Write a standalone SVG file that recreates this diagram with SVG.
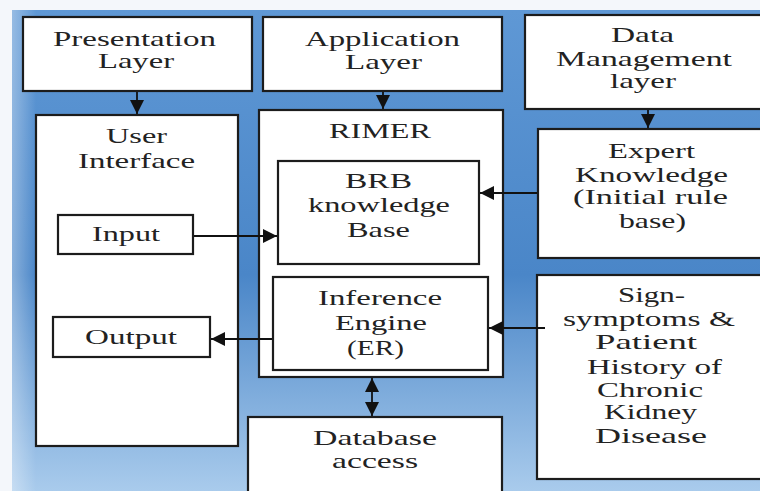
<svg xmlns="http://www.w3.org/2000/svg" width="760" height="491" viewBox="0 0 760 491">
<defs>
<linearGradient id="bg" x1="0" y1="0" x2="0" y2="1">
<stop offset="0" stop-color="#5f98d5"/>
<stop offset="0.55" stop-color="#4a86c8"/>
<stop offset="1" stop-color="#a9cbec"/>
</linearGradient>
<linearGradient id="edge" x1="0" y1="0" x2="1" y2="0">
<stop offset="0" stop-color="#ffffff" stop-opacity="0.35"/>
<stop offset="1" stop-color="#ffffff" stop-opacity="0"/>
</linearGradient>
<marker id="ah" markerUnits="userSpaceOnUse" markerWidth="16" markerHeight="16" viewBox="0 0 16 16" refX="15" refY="8" orient="auto-start-reverse">
<path d="M1,1 L15,8 L1,15 Z" fill="#111"/>
</marker>
<style>
.box{fill:#fff;stroke:#1c1c1c;stroke-width:2.2}
.t{font-family:"Liberation Serif","Times New Roman",serif;font-size:21.5px;fill:#222}
.c{stroke:#111;stroke-width:1.8;fill:none}
</style>
</defs>
<rect x="0" y="0" width="760" height="491" fill="#f4f7fb"/>
<rect x="12" y="10" width="748" height="481" fill="url(#bg)"/>
<rect x="12" y="10" width="24" height="481" fill="url(#edge)"/>

<g id="presentation">
<rect class="box" x="23" y="17" width="229" height="74"/>
<text class="t" x="53" y="46" textLength="163" lengthAdjust="spacingAndGlyphs">Presentation</text>
<text class="t" x="98" y="68" textLength="76" lengthAdjust="spacingAndGlyphs">Layer</text>
</g>
<g id="application">
<rect class="box" x="263" y="17" width="239" height="74"/>
<text class="t" x="305" y="46" textLength="155" lengthAdjust="spacingAndGlyphs">Application</text>
<text class="t" x="345" y="69" textLength="77" lengthAdjust="spacingAndGlyphs">Layer</text>
</g>
<g id="datamanagement">
<rect class="box" x="525" y="15" width="245" height="94"/>
<text class="t" x="611" y="42" textLength="63" lengthAdjust="spacingAndGlyphs">Data</text>
<text class="t" x="556" y="66" textLength="176" lengthAdjust="spacingAndGlyphs">Management</text>
<text class="t" x="610" y="88" textLength="66" lengthAdjust="spacingAndGlyphs">layer</text>
</g>
<g id="userinterface">
<rect class="box" x="36" y="115" width="202" height="331"/>
<text class="t" x="106" y="143" textLength="61" lengthAdjust="spacingAndGlyphs">User</text>
<text class="t" x="78" y="168" textLength="117" lengthAdjust="spacingAndGlyphs">Interface</text>
</g>
<g id="input">
<rect class="box" x="58" y="215" width="135" height="39"/>
<text class="t" x="92" y="241" textLength="68" lengthAdjust="spacingAndGlyphs">Input</text>
</g>
<g id="output">
<rect class="box" x="53" y="317" width="157" height="40"/>
<text class="t" x="85" y="344" textLength="92" lengthAdjust="spacingAndGlyphs">Output</text>
</g>
<g id="rimer">
<rect class="box" x="259" y="110" width="244" height="267"/>
<text class="t" x="329" y="138" textLength="102" lengthAdjust="spacingAndGlyphs">RIMER</text>
</g>
<g id="brb">
<rect class="box" x="278" y="161" width="201" height="103"/>
<text class="t" x="345" y="188" textLength="67" lengthAdjust="spacingAndGlyphs">BRB</text>
<text class="t" x="308" y="212" textLength="142" lengthAdjust="spacingAndGlyphs">knowledge</text>
<text class="t" x="347" y="237" textLength="63" lengthAdjust="spacingAndGlyphs">Base</text>
</g>
<g id="inference">
<rect class="box" x="273" y="277" width="215" height="93"/>
<text class="t" x="318" y="305" textLength="124" lengthAdjust="spacingAndGlyphs">Inference</text>
<text class="t" x="335" y="330" textLength="92" lengthAdjust="spacingAndGlyphs">Engine</text>
<text class="t" x="347" y="355" textLength="57" lengthAdjust="spacingAndGlyphs">(ER)</text>
</g>
<g id="database">
<rect class="box" x="248" y="417" width="254" height="90"/>
<text class="t" x="313" y="445" textLength="124" lengthAdjust="spacingAndGlyphs">Database</text>
<text class="t" x="332" y="468" textLength="86" lengthAdjust="spacingAndGlyphs">access</text>
</g>
<g id="expert">
<rect class="box" x="538" y="129" width="232" height="129"/>
<text class="t" x="608" y="158" textLength="87" lengthAdjust="spacingAndGlyphs">Expert</text>
<text class="t" x="575" y="182" textLength="153" lengthAdjust="spacingAndGlyphs">Knowledge</text>
<text class="t" x="573" y="204" textLength="155" lengthAdjust="spacingAndGlyphs">(Initial rule</text>
<text class="t" x="619" y="228" textLength="67" lengthAdjust="spacingAndGlyphs">base)</text>
</g>
<g id="signsymptoms">
<rect class="box" x="537" y="275" width="233" height="204"/>
<text class="t" x="618" y="302" textLength="67" lengthAdjust="spacingAndGlyphs">Sign-</text>
<text class="t" x="563" y="326" textLength="172" lengthAdjust="spacingAndGlyphs">symptoms &amp;</text>
<text class="t" x="595" y="349" textLength="102" lengthAdjust="spacingAndGlyphs">Patient</text>
<text class="t" x="587" y="374" textLength="135" lengthAdjust="spacingAndGlyphs">History of</text>
<text class="t" x="597" y="397" textLength="106" lengthAdjust="spacingAndGlyphs">Chronic</text>
<text class="t" x="604" y="419" textLength="93" lengthAdjust="spacingAndGlyphs">Kidney</text>
<text class="t" x="595" y="443" textLength="112" lengthAdjust="spacingAndGlyphs">Disease</text>
</g>

<g id="connectors">
<line class="c" x1="137" y1="92" x2="137" y2="114" marker-end="url(#ah)"/>
<line class="c" x1="383" y1="92" x2="383" y2="109" marker-end="url(#ah)"/>
<line class="c" x1="648" y1="110" x2="648" y2="128" marker-end="url(#ah)"/>
<line class="c" x1="194" y1="236" x2="277" y2="236" marker-end="url(#ah)"/>
<line class="c" x1="537" y1="193" x2="480" y2="193" marker-end="url(#ah)"/>
<line class="c" x1="272" y1="339" x2="211" y2="339" marker-end="url(#ah)"/>
<line class="c" x1="545" y1="328" x2="489" y2="328" marker-end="url(#ah)"/>
<line class="c" x1="372" y1="378" x2="372" y2="416" marker-start="url(#ah)" marker-end="url(#ah)"/>
</g>
</svg>
